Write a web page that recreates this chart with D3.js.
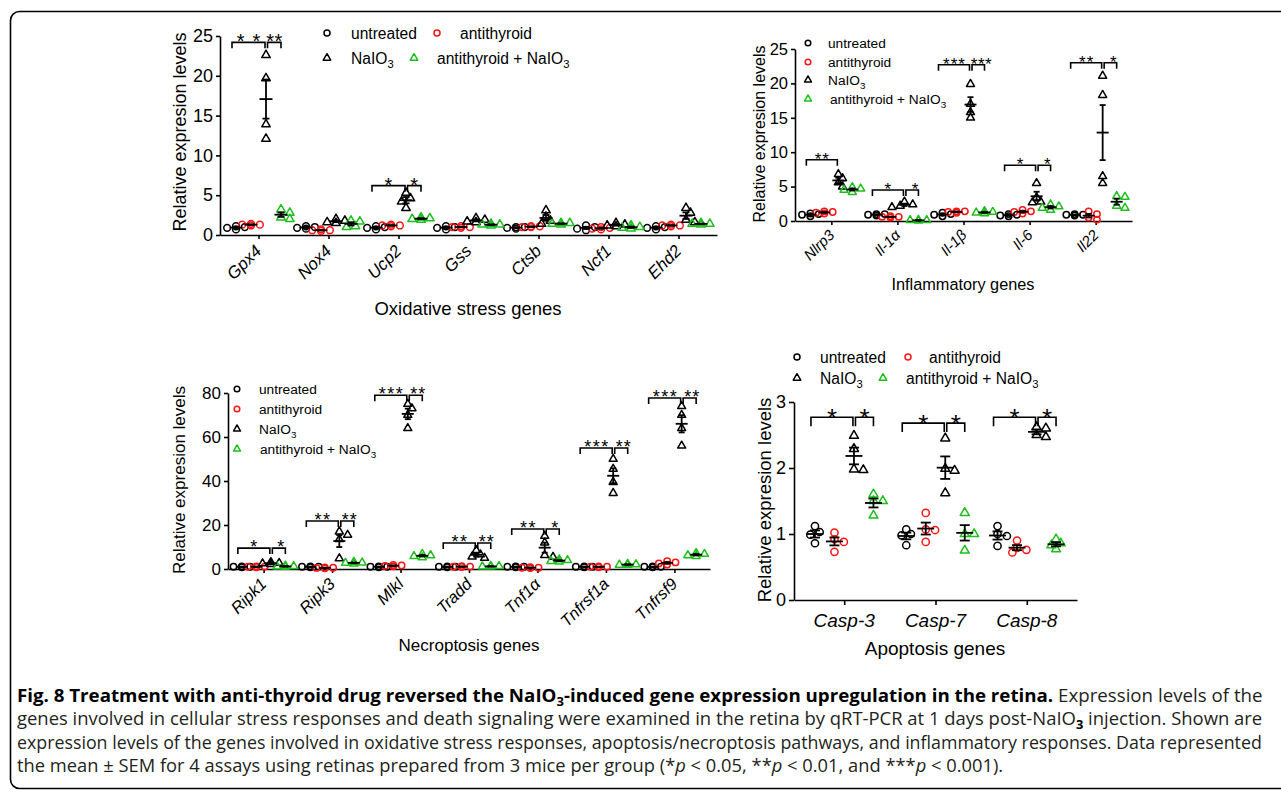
<!DOCTYPE html>
<html><head><meta charset="utf-8">
<script src="https://cdn.jsdelivr.net/npm/d3@7"></script>
<style>
html,body{margin:0;padding:0;background:#fff;}
svg{display:block;}
text{white-space:pre;}
</style></head><body>
<svg id="fig" width="1281" height="792"></svg>
<script>
// ---------------- data ----------------
const seriesNames = ["untreated", "antithyroid", "NaIO3", "antithyroid + NaIO3"];
const seriesColors = ["#000000", "#ff1414", "#000000", "#1cbf1c"];
const seriesShapes = ["circle", "circle", "triangle", "triangle"];

// Oxidative stress genes
const oxGenes = ["Gpx4", "Nox4", "Ucp2", "Gss", "Ctsb", "Ncf1", "Ehd2"];
const oxTicks = [0, 5, 10, 15, 20, 25];
const oxUntreated = [[0.7,0.9,1.0,1.1],[0.8,0.9,1.0,1.1],[0.7,0.9,1.0,1.1],[0.7,0.9,1.0,1.1],[0.8,0.9,1.0,1.0],[0.6,0.8,1.0,1.2],[0.7,0.9,1.0,1.1]];
const oxAntithyroid = [[1.2,1.3,1.3,1.4],[0.5,0.6,0.6,0.7],[1.1,1.2,1.2,1.3],[0.9,1.0,1.0,1.1],[1.0,1.0,1.1,1.1],[0.7,0.8,0.9,1.0],[1.1,1.2,1.2,1.3]];
const oxNaIO3 = [[22.6,19.7,13.9,12.1],[2.0,1.8,1.6,1.5],[5.3,4.6,4.2,3.4],[2.1,1.9,1.7,1.6],[3.1,2.3,1.8,1.4],[1.5,1.3,1.2,1.1],[3.4,2.8,1.9,1.6]];
const oxCombo = [[3.2,2.8,2.2,2.0],[1.8,1.7,1.1,1.0],[2.2,2.1,2.0,1.9],[1.4,1.3,1.3,1.2],[1.5,1.5,1.4,1.3],[1.2,1.0,0.9,0.8],[1.5,1.4,1.4,1.3]];
const oxSig = [[0,0,2,24.2,"**"],[0,2,3,24.2,"**"],[2,0,2,6.2,"*"],[2,2,3,6.2,"*"]];

// Inflammatory genes
const infGenes = ["Nlrp3", "Il-1α", "Il-1β", "Il-6", "Il22"];
const infTicks = [0, 5, 10, 15, 20, 25];
const infUntreated = [[0.7,0.9,1.0,1.1],[0.8,0.9,1.0,1.0],[0.7,0.9,1.0,1.2],[0.7,0.8,0.9,1.0],[0.8,0.9,0.9,1.0]];
const infAntithyroid = [[1.1,1.2,1.3,1.4],[0.5,0.6,0.6,0.7],[1.2,1.3,1.4,1.4],[1.1,1.3,1.4,1.6],[0.2,0.5,1.0,1.4]];
const infNaIO3 = [[6.8,6.2,5.6,5.0],[2.8,2.4,2.2,2.0],[19.9,17.0,15.8,15.0],[5.5,3.4,2.8,2.7],[21.1,18.3,6.5,5.5]];
const infCombo = [[4.9,4.7,4.5,4.2],[0.15,0.1,0.1,0.05],[1.4,1.3,1.2,1.1],[2.4,2.1,1.9,1.6],[3.6,3.5,2.2,1.9]];
const infSig = [[0,0,2,8.9,"**"],[1,0,2,4.5,"*"],[1,2,3,4.5,"*"],[2,0,2,22.7,"***"],[2,2,3,22.7,"***"],[3,0,2,8.1,"*"],[3,2,3,8.1,"*"],[4,0,2,23,"**"],[4,2,3,23,"*"]];

// Necroptosis genes
const necGenes = ["Ripk1", "Ripk3", "Mlkl", "Tradd", "Tnf1α", "Tnfrsf1a", "Tnfrsf9"];
const necTicks = [0, 20, 40, 60, 80];
const necUntreated = [[0.8,1.0,1.0,1.2],[0.8,1.0,1.0,1.2],[0.8,1.0,1.0,1.2],[0.8,1.0,1.0,1.2],[0.8,1.0,1.0,1.2],[0.8,1.0,1.0,1.2],[0.8,1.0,1.0,1.2]];
const necAntithyroid = [[0.8,1.0,1.1,1.2],[0.3,0.5,0.6,0.7],[1.2,1.4,1.6,1.8],[0.9,1.0,1.1,1.3],[0.4,0.6,0.6,0.8],[0.8,1.0,1.0,1.2],[2.0,2.5,3.0,3.6]];
const necNaIO3 = [[3.1,2.7,2.5,2.2],[17.0,15.5,13.5,4.8],[75,73,70,64],[8.5,6.6,5.6,5.0],[15,12,6.3,5.5],[50,45.5,39.5,34.5],[74,70,64,56]];
const necCombo = [[1.5,1.3,1.1,0.9],[3.2,2.9,2.7,2.4],[6.8,6.2,5.8,5.2],[1.4,1.3,1.1,1.0],[4.3,4.0,3.6,3.3],[2.3,2.1,1.9,1.8],[7.2,6.8,6.2,5.8]];
const necSig = [[0,0,2,9.5,"*"],[0,2,3,9.5,"*"],[1,0,2,21.8,"**"],[1,2,3,21.8,"**"],[2,0,2,79,"***"],[2,2,3,79,"**"],[3,0,2,11.8,"**"],[3,2,3,11.8,"**"],[4,0,2,18.2,"**"],[4,2,3,18.2,"*"],[5,0,2,55,"***"],[5,2,3,55,"**"],[6,0,2,77.7,"***"],[6,2,3,77.7,"**"]];

// Apoptosis genes
const apoGenes = ["Casp-3", "Casp-7", "Casp-8"];
const apoTicks = [0, 1, 2, 3];
const apoUntreated = [[1.12,1.03,0.99,0.86],[1.07,1.0,0.98,0.83],[1.12,1.0,0.97,0.82]];
const apoAntithyroid = [[1.02,0.92,0.88,0.73],[1.32,1.07,1.06,0.88],[0.9,0.79,0.76,0.72]];
const apoNaIO3 = [[2.49,2.29,1.97,1.98],[2.45,1.99,1.96,1.62],[2.62,2.6,2.5,2.47]];
const apoCombo = [[1.6,1.5,1.5,1.28],[1.32,1.0,1.0,0.75],[0.92,0.86,0.83,0.77]];
const apoSig = [[0,0,2,2.77,"*"],[0,2,3,2.77,"*"],[1,0,2,2.68,"*"],[1,2,3,2.68,"*"],[2,0,2,2.77,"*"],[2,2,3,2.77,"*"]];

// Caption text
const captionLines = [
  [["Fig. 8 Treatment with anti-thyroid drug reversed the NaIO","b"],["3","bsub"],["-induced gene expression upregulation in the retina.","b"],[" Expression levels of the",""]],
  [["genes involved in cellular stress responses and death signaling were examined in the retina by qRT-PCR at 1 days post-NaIO",""],["3","sub"],[" injection. Shown are",""]],
  [["expression levels of the genes involved in oxidative stress responses, apoptosis/necroptosis pathways, and inflammatory responses. Data represented",""]],
  [["the mean ± SEM for 4 assays using retinas prepared from 3 mice per group (*",""],["p","i"],[" < 0.05, **",""],["p","i"],[" < 0.01, and ***",""],["p","i"],[" < 0.001).",""]]
];

// ---------------- drawing ----------------
const FONT = '"Liberation Sans", Arial, Helvetica, sans-serif';
const svg = d3.select("#fig");

svg.append("rect").attr("x", 10.5).attr("y", 11.5).attr("width", 1300).attr("height", 777)
  .attr("rx", 9).attr("fill", "none").attr("stroke", "#000").attr("stroke-width", 1.6);

function rich(sel, str, fs) {
  const parts = str.split("NaIO3");
  let pend = 0;
  parts.forEach((p, i) => {
    if (p) { const t = sel.append("tspan").text(p); if (pend) { t.attr("dy", pend); pend = 0; } }
    if (i < parts.length - 1) {
      const t = sel.append("tspan").text("NaIO"); if (pend) { t.attr("dy", pend); pend = 0; }
      sel.append("tspan").attr("dy", fs * 0.3).attr("font-size", fs * 0.72).text("3");
      pend = -fs * 0.3;
    }
  });
}

function marker(g, shape, cx, cy, r, color, sw) {
  if (shape === "circle") {
    g.append("circle").attr("cx", cx).attr("cy", cy).attr("r", r)
      .attr("fill", "none").attr("stroke", color).attr("stroke-width", sw);
  } else {
    const s = r * 2.5, h = s * Math.sqrt(3) / 2;
    g.append("path").attr("d", `M${cx},${cy - h * 2 / 3}L${cx + s / 2},${cy + h / 3}L${cx - s / 2},${cy + h / 3}Z`)
      .attr("fill", "none").attr("stroke", color).attr("stroke-width", sw).attr("stroke-linejoin", "round");
  }
}

function swarm(vals, y, r) {
  const placed = [], res = new Array(vals.length);
  const order = vals.map((v, i) => i).sort((a, b) => vals[b] - vals[a]);
  const step = r * 1.3;
  order.forEach(i => {
    const py = y(vals[i]);
    for (const k of [0, 1, -1, 2, -2, 3, -3]) {
      const px = k * step;
      if (placed.every(p => Math.hypot(p[0] - px, p[1] - py) >= r * 1.7)) { res[i] = px; placed.push([px, py]); break; }
    }
    if (res[i] === undefined) { res[i] = 0; placed.push([0, py]); }
  });
  return res;
}

function drawPanel(cfg, genes, groups, ticks, sig, legend) {
  const g = svg.append("g");
  const x = d3.scalePoint().domain(genes).range([cfg.xl, cfg.xr]).padding(cfg.pad);
  const y = d3.scaleLinear().domain([0, d3.max(ticks)]).range([cfg.y0, cfg.yTop]);
  const off = i => (i - 1.5) * cfg.d;

  const ay = g.append("g").attr("transform", `translate(${cfg.xl},0)`)
    .call(d3.axisLeft(y).tickValues(ticks).tickFormat(d3.format("d")).tickSize(cfg.tick).tickSizeOuter(0).tickPadding(cfg.tickPad));
  ay.selectAll("text").attr("font-size", cfg.tickFs).attr("fill", "#000").attr("font-family", FONT);
  g.append("g").attr("transform", `translate(0,${cfg.y0})`)
    .call(d3.axisBottom(x).tickSize(cfg.tick).tickSizeOuter(0).tickFormat(""));
  g.selectAll(".domain, .tick line").attr("stroke", "#000").attr("stroke-width", 1.6);

  g.append("text").attr("transform", `translate(${cfg.yTitle[0]},${cfg.yTitle[1]}) rotate(-90)`)
    .attr("text-anchor", "middle").attr("font-family", FONT).attr("font-size", cfg.yTitle[2])
    .text("Relative expresion levels");
  g.append("text").attr("x", cfg.xTitle[1]).attr("y", cfg.xTitle[2]).attr("text-anchor", "middle")
    .attr("font-family", FONT).attr("font-size", cfg.xTitle[3]).text(cfg.xTitle[0]);

  genes.forEach(gn => {
    const t = g.append("text").attr("font-family", FONT).attr("font-style", "italic").attr("font-size", cfg.labelFs);
    if (cfg.rotate) t.attr("text-anchor", "end").attr("transform", `translate(${x(gn) + cfg.labelDx},${cfg.y0 + cfg.labelDy}) rotate(-45)`);
    else t.attr("text-anchor", "middle").attr("x", x(gn)).attr("y", cfg.labelY);
    t.text(gn);
  });

  const gp = g.append("g"), gb = g.append("g");
  groups.forEach((sd, si) => {
    sd.forEach((vals, gi) => {
      const cx = x(genes[gi]) + off(si);
      const js = swarm(vals, y, cfg.r);
      vals.forEach((v, k) => marker(gp, seriesShapes[si], cx + js[k], y(v), cfg.r, seriesColors[si], 1.5));
      const m = d3.mean(vals), se = d3.deviation(vals) / Math.sqrt(vals.length);
      const bw = 1.8;
      gb.append("line").attr("x1", cx - cfg.meanW / 2).attr("x2", cx + cfg.meanW / 2).attr("y1", y(m)).attr("y2", y(m))
        .attr("stroke", "#000").attr("stroke-width", bw);
      gb.append("line").attr("x1", cx).attr("x2", cx).attr("y1", y(m - se)).attr("y2", y(m + se))
        .attr("stroke", "#000").attr("stroke-width", bw);
      [m - se, m + se].forEach(v => gb.append("line").attr("x1", cx - cfg.capW / 2).attr("x2", cx + cfg.capW / 2)
        .attr("y1", y(v)).attr("y2", y(v)).attr("stroke", "#000").attr("stroke-width", bw));
    });
  });

  sig.forEach(([gi, s1, s2, yv, lab]) => {
    const c = x(genes[gi]);
    const xa = c + off(s1) + (s1 === 0 ? -4 : 1.5);
    const xb = c + off(s2) + (s2 === 2 ? -1 : 0);
    const yy = y(yv);
    const ls = s1 === 0 ? cfg.starLS[0] : cfg.starLS[1];
    g.append("path").attr("d", `M${xa},${yy + cfg.bTick}V${yy}H${xb}V${yy + cfg.bTick}`)
      .attr("fill", "none").attr("stroke", "#000").attr("stroke-width", 1.6);
    g.append("text").attr("x", (xa + xb) / 2 + ls / 2 + (s1 === 0 ? 0 : cfg.starShift)).attr("y", yy + cfg.starDy).attr("text-anchor", "middle")
      .attr("font-family", FONT).attr("font-size", cfg.starFs).attr("letter-spacing", ls).text(lab);
  });

  legend.entries.forEach(([si, mx, my, tx]) => {
    marker(g, seriesShapes[si], mx, my, legend.r, seriesColors[si], 1.5);
    const t = g.append("text").attr("x", tx).attr("y", my + legend.fs * 0.36)
      .attr("font-family", FONT).attr("font-size", legend.fs);
    rich(t, seriesNames[si], legend.fs);
  });
}

drawPanel({xl:220, xr:717, pad:0.55, y0:235, yTop:36, d:15, r:3.4, tick:4, tickPad:3, tickFs:18,
  yTitle:[186,132,18], xTitle:["Oxidative stress genes",468,315,18.5], labelFs:17, rotate:true, labelDx:4, labelDy:17,
  meanW:13, capW:7, starFs:20, starLS:[8,0.5], starShift:0, starDy:6, bTick:6},
  oxGenes, [oxUntreated, oxAntithyroid, oxNaIO3, oxCombo], oxTicks, oxSig,
  {r:3, fs:15.6, entries:[[0,327,33,351],[1,437,33,460],[2,327,58,351],[3,414,58,437]]});

drawPanel({xl:795, xr:1132, pad:0.55, y0:221, yTop:49, d:14, r:3.2, tick:4, tickPad:3, tickFs:16.5,
  yTitle:[765,134,16], xTitle:["Inflammatory genes",963,290,16.3], labelFs:15, rotate:true, labelDx:4, labelDy:15,
  meanW:12, capW:6, starFs:17, starLS:[1,0.5], starShift:3, starDy:5, bTick:6},
  infGenes, [infUntreated, infAntithyroid, infNaIO3, infCombo], infTicks, infSig,
  {r:2.8, fs:13.7, entries:[[0,808,43,828],[1,808,62,828],[2,808,80,828],[3,808,99,830]]});

drawPanel({xl:228, xr:710, pad:0.52, y0:569, yTop:393, d:14.5, r:3.2, tick:4, tickPad:3, tickFs:17,
  yTitle:[185,480,17], xTitle:["Necroptosis genes",469,651,17], labelFs:16.5, rotate:true, labelDx:4, labelDy:16,
  meanW:12, capW:6, starFs:18, starLS:[1.5,1], starShift:2, starDy:5, bTick:6},
  necGenes, [necUntreated, necAntithyroid, necNaIO3, necCombo], necTicks, necSig,
  {r:2.8, fs:13.7, entries:[[0,237,389,259],[1,237,409,259],[2,237,429,259],[3,237,449,260]]});

drawPanel({xl:794, xr:1077, pad:0.55, y0:600, yTop:402, d:19.5, r:3.6, tick:5, tickPad:3, tickFs:18,
  yTitle:[771,500,18.5], xTitle:["Apoptosis genes",935,655,19], labelFs:19, rotate:false, labelY:627,
  meanW:17, capW:10, starFs:26, starLS:[0,0], starShift:0, starDy:10, bTick:9},
  apoGenes, [apoUntreated, apoAntithyroid, apoNaIO3, apoCombo], apoTicks, apoSig,
  {r:3, fs:15.6, entries:[[0,797,357,820],[1,908,357,929],[2,797,378,820],[3,883,378,906]]});

// caption: lines 1-3 fitted to the full width, last line at the same average glyph scale
const CAPFONT = '"Open Sans", "Noto Sans", sans-serif';
const capY = [702, 725, 749, 772];
const capFs = 17.5;
const capLeft = 17, capWidth = 1246;
const capTexts = captionLines.map((segs, li) => {
  const t = svg.append("text").attr("x", 0).attr("y", 0).attr("font-family", CAPFONT)
    .attr("font-size", capFs).attr("fill", "#231f20");
  let pend = 0;
  segs.forEach(([txt, st]) => {
    const s = t.append("tspan").text(txt);
    if (st.includes("b")) s.attr("font-weight", "bold").attr("fill", "#000");
    if (st.includes("i")) s.attr("font-style", "italic");
    if (st.includes("sub")) { s.attr("dy", capFs * 0.25).attr("font-size", capFs * 0.7); pend = -capFs * 0.25; }
    else if (pend) { s.attr("dy", pend); pend = 0; }
  });
  return t;
});
const natural = capTexts.map(t => t.node().getComputedTextLength());
const scales = natural.map(w => capWidth / w);
const meanScale = d3.mean(scales.slice(0, 3));
capTexts.forEach((t, li) => {
  const s = li < 3 ? scales[li] : meanScale;
  t.attr("transform", `translate(${capLeft},${capY[li]}) scale(${s},1)`);
});
</script>
</body></html>
